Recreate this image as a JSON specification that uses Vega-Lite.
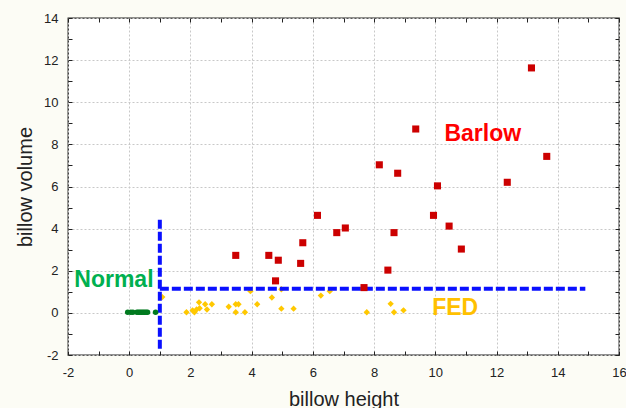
{
  "$schema": "https://vega.github.io/schema/vega-lite/v6.json",
  "width": 551,
  "height": 337,
  "autosize": {"type": "none"},
  "padding": {"left": 68, "top": 18, "right": 7, "bottom": 53},
  "background": "#fcfcf5",
  "config": {
    "view": {"stroke": "#222222", "strokeWidth": 1.3, "fill": "#ffffff"},
    "font": "Liberation Sans"
  },
  "datasets": {
    "barlow": [
      {"x": 3.48, "y": 2.73}, {"x": 4.56, "y": 2.73}, {"x": 4.87, "y": 2.5}, {"x": 4.78, "y": 1.52},
      {"x": 5.6, "y": 2.35}, {"x": 5.67, "y": 3.33}, {"x": 6.15, "y": 4.63}, {"x": 6.78, "y": 3.81},
      {"x": 7.06, "y": 4.03}, {"x": 7.67, "y": 1.2}, {"x": 8.17, "y": 7.03}, {"x": 8.45, "y": 2.03},
      {"x": 8.65, "y": 3.81}, {"x": 8.77, "y": 6.63}, {"x": 9.36, "y": 8.73}, {"x": 9.94, "y": 4.63},
      {"x": 10.07, "y": 6.03}, {"x": 10.45, "y": 4.12}, {"x": 10.85, "y": 3.03}, {"x": 12.35, "y": 6.2},
      {"x": 13.14, "y": 11.63}, {"x": 13.64, "y": 7.43}
    ],
    "fed": [
      {"x": 1.08, "y": 0.75}, {"x": 1.87, "y": 0.03}, {"x": 2.07, "y": 0.12}, {"x": 2.13, "y": 0.03},
      {"x": 2.2, "y": 0.16}, {"x": 2.28, "y": 0.5}, {"x": 2.3, "y": 0.22}, {"x": 2.48, "y": 0.41},
      {"x": 2.54, "y": 0.16}, {"x": 2.7, "y": 0.41}, {"x": 3.25, "y": 0.29}, {"x": 3.48, "y": 0.41},
      {"x": 3.57, "y": 0.41}, {"x": 3.48, "y": 0.03}, {"x": 3.78, "y": 0.03}, {"x": 3.96, "y": 1.03},
      {"x": 4.18, "y": 0.41}, {"x": 4.66, "y": 0.73}, {"x": 4.97, "y": 0.2}, {"x": 4.97, "y": 1.12},
      {"x": 5.37, "y": 0.2}, {"x": 6.26, "y": 0.82}, {"x": 6.55, "y": 1.03}, {"x": 7.76, "y": 0.03},
      {"x": 8.54, "y": 0.43}, {"x": 8.65, "y": 0.03}, {"x": 8.96, "y": 0.12}
    ],
    "normal": [
      {"x": -0.05, "y": 0.03}, {"x": 0.05, "y": 0.03}, {"x": 0.12, "y": 0.03}, {"x": 0.25, "y": 0.03},
      {"x": 0.3, "y": 0.03}, {"x": 0.35, "y": 0.03}, {"x": 0.4, "y": 0.03}, {"x": 0.45, "y": 0.03},
      {"x": 0.5, "y": 0.03}, {"x": 0.55, "y": 0.03}, {"x": 0.6, "y": 0.03}, {"x": 0.86, "y": 0.03}
    ],
    "bounds": [
      {"x": 1, "y": -1.7, "x2": 1, "y2": 4.45},
      {"x": 1, "y": 1.15, "x2": 14.9, "y2": 1.15}
    ],
    "labels": [
      {"label": "Barlow", "x": 11.55, "y": 8.17},
      {"label": "Normal", "x": -0.5, "y": 1.24},
      {"label": "FED", "x": 10.65, "y": -0.08}
    ]
  },
  "resolve": {"axis": {"x": "independent", "y": "independent"}},
  "layer": [
    {
      "data": {"name": "barlow"},
      "mark": {"type": "square", "size": 50, "opacity": 0},
      "encoding": {
        "x": {
          "field": "x", "type": "quantitative",
          "scale": {"domain": [-2, 16], "nice": false, "zero": false},
          "axis": {
            "orient": "bottom",
            "values": [-2, 0, 2, 4, 6, 8, 10, 12, 14, 16],
            "labels": false, "ticks": false, "domain": false, "title": null,
            "grid": true, "gridColor": "#c8c8c8", "gridDash": [2, 2]
          }
        },
        "y": {
          "field": "y", "type": "quantitative",
          "scale": {"domain": [-2, 14], "nice": false, "zero": false},
          "axis": {
            "orient": "left",
            "values": [-2, 0, 2, 4, 6, 8, 10, 12, 14],
            "labels": false, "ticks": false, "domain": false, "title": null,
            "grid": true, "gridColor": "#c8c8c8", "gridDash": [2, 2]
          }
        }
      }
    },
    {
      "data": {"name": "fed"},
      "mark": {"type": "point", "shape": "diamond", "filled": true, "size": 40, "color": "#ffc800", "opacity": 1},
      "encoding": {
        "x": {
          "field": "x", "type": "quantitative",
          "axis": {
            "orient": "bottom",
            "values": [-2, -1, 0, 1, 2, 3, 4, 5, 6, 7, 8, 9, 10, 11, 12, 13, 14, 15, 16],
            "labelExpr": "datum.value % 2 == 0 ? '' + datum.value : ''",
            "title": "billow height",
            "grid": false,
            "domain": false,
            "tickSize": -4,
            "tickColor": "#222222",
            "labelPadding": 15,
            "labelFontSize": 13,
            "labelFont": "Liberation Sans",
            "labelColor": "#222222",
            "labelOverlap": false,
            "labelFlush": false,
            "titleFont": "Liberation Sans",
            "titleFontSize": 20,
            "titleFontWeight": "normal",
            "titleColor": "#222222",
            "titlePadding": 10
          }
        },
        "y": {
          "field": "y", "type": "quantitative",
          "axis": {
            "orient": "left",
            "values": [-2, -1, 0, 1, 2, 3, 4, 5, 6, 7, 8, 9, 10, 11, 12, 13, 14],
            "labelExpr": "datum.value % 2 == 0 ? '' + datum.value : ''",
            "title": "billow volume",
            "grid": false,
            "domain": false,
            "tickSize": -4,
            "tickColor": "#222222",
            "labelPadding": 14,
            "labelFontSize": 13,
            "labelFont": "Liberation Sans",
            "labelColor": "#222222",
            "labelOverlap": false,
            "labelFlush": false,
            "titleFont": "Liberation Sans",
            "titleFontSize": 20,
            "titleFontWeight": "normal",
            "titleColor": "#222222",
            "titlePadding": 8
          }
        }
      }
    },
    {
      "data": {"name": "bounds"},
      "mark": {"type": "rule", "color": "#0a10ff", "strokeWidth": 4, "strokeDash": [9, 3], "strokeCap": "butt"},
      "encoding": {
        "x": {
          "field": "x", "type": "quantitative",
          "axis": {
            "orient": "top",
            "values": [-2, -1, 0, 1, 2, 3, 4, 5, 6, 7, 8, 9, 10, 11, 12, 13, 14, 15, 16],
            "labels": false, "grid": false, "domain": false, "tickSize": -4, "tickColor": "#222222", "title": null
          }
        },
        "y": {
          "field": "y", "type": "quantitative",
          "axis": {
            "orient": "right",
            "values": [-2, -1, 0, 1, 2, 3, 4, 5, 6, 7, 8, 9, 10, 11, 12, 13, 14],
            "labels": false, "grid": false, "domain": false, "tickSize": -4, "tickColor": "#222222", "title": null
          }
        },
        "x2": {"field": "x2"},
        "y2": {"field": "y2"}
      }
    },
    {
      "data": {"name": "barlow"},
      "mark": {"type": "square", "size": 50, "color": "#cc0000", "opacity": 1},
      "encoding": {
        "x": {"field": "x", "type": "quantitative", "axis": null},
        "y": {"field": "y", "type": "quantitative", "axis": null}
      }
    },
    {
      "data": {"name": "normal"},
      "mark": {"type": "circle", "size": 30, "color": "#007a1f", "opacity": 1},
      "encoding": {
        "x": {"field": "x", "type": "quantitative", "axis": null},
        "y": {"field": "y", "type": "quantitative", "axis": null}
      }
    },
    {
      "data": {"name": "labels"},
      "mark": {"type": "text", "font": "Liberation Sans", "fontSize": 23, "fontWeight": "bold", "align": "center", "baseline": "alphabetic"},
      "encoding": {
        "x": {"field": "x", "type": "quantitative", "axis": null},
        "y": {"field": "y", "type": "quantitative", "axis": null},
        "text": {"field": "label"},
        "color": {
          "field": "label", "type": "nominal",
          "scale": {"domain": ["Barlow", "Normal", "FED"], "range": ["#ff0000", "#00b050", "#ffc000"]},
          "legend": null
        }
      }
    }
  ]
}
